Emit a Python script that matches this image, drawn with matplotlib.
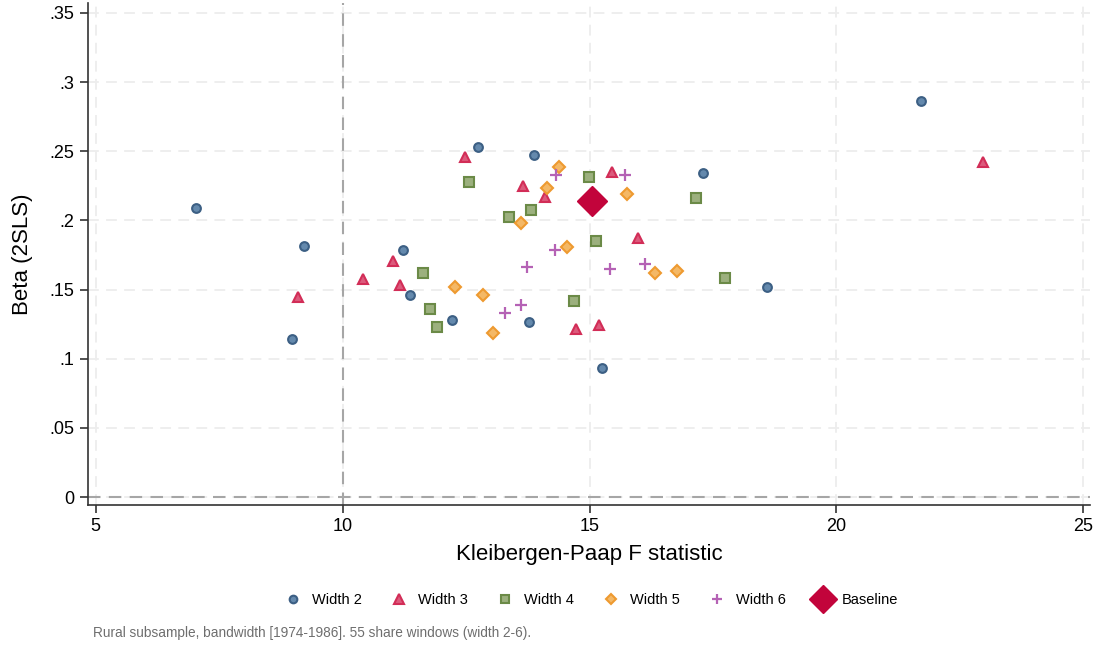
import matplotlib.pyplot as plt

plt.rcParams['font.family'] = ['Liberation Sans', 'DejaVu Sans']

# Kleibergen-Paap F and 2SLS beta per share window
w2_f = [7.03, 9.21, 8.97, 11.22, 11.37, 12.21, 12.75, 13.87, 13.78, 15.25, 17.29, 18.59, 21.72]
w2_b = [0.2093, 0.1812, 0.1140, 0.1788, 0.1461, 0.1281, 0.2529, 0.2472, 0.1265, 0.0931, 0.2342, 0.1517, 0.2860]

w3_f = [9.09, 10.41, 11.02, 11.17, 12.48, 13.66, 14.10, 14.73, 15.19, 15.46, 15.98, 22.97]
w3_b = [0.1450, 0.1580, 0.1705, 0.1532, 0.2456, 0.2247, 0.2173, 0.1216, 0.1247, 0.2348, 0.1873, 0.2420]

w4_f = [11.63, 11.77, 11.91, 12.56, 13.37, 13.82, 14.99, 15.13, 14.69, 17.16, 17.75]
w4_b = [0.1622, 0.1360, 0.1231, 0.2280, 0.2023, 0.2073, 0.2316, 0.1855, 0.1416, 0.2160, 0.1582]

w5_f = [12.27, 12.84, 13.05, 13.61, 14.14, 14.39, 14.55, 15.75, 16.32, 16.77]
w5_b = [0.1517, 0.1459, 0.1190, 0.1978, 0.2237, 0.2385, 0.1805, 0.2191, 0.1622, 0.1632]

w6_f = [14.33, 15.71, 14.29, 13.73, 15.42, 16.12, 13.61, 13.28]
w6_b = [0.2328, 0.2328, 0.1788, 0.1663, 0.1651, 0.1687, 0.1392, 0.1330]

base_f = [15.04]
base_b = [0.2143]

x_ticks = [5, 10, 15, 20, 25]
y_ticks = [0, 0.05, 0.1, 0.15, 0.2, 0.25, 0.3, 0.35]
y_labels = ['0', '.05', '.1', '.15', '.2', '.25', '.3', '.35']

fig = plt.figure(figsize=(10.98, 6.46), dpi=100)
ax = fig.add_axes([0.080, 0.218, 0.913, 0.777])

ax.set_xlim(4.84, 25.14)
ax.set_ylim(-0.0058, 0.357)
ax.set_xticks(x_ticks)
ax.set_yticks(y_ticks)
ax.set_yticklabels(y_labels)
ax.tick_params(labelsize=13, length=6, width=1.2, color='#333333')
ax.grid(True, color='#ededed', linestyle=(0, (6, 4)), linewidth=1.3)
ax.set_axisbelow(True)
for s in ['top', 'right']:
    ax.spines[s].set_visible(False)
for s in ['left', 'bottom']:
    ax.spines[s].set_color('#333333')
    ax.spines[s].set_linewidth(1.2)

ax.axvline(10, color='#a6a6a6', linestyle=(0, (6, 4)), linewidth=1.5, zorder=1)
ax.axhline(0, color='#a6a6a6', linestyle=(0, (6, 4)), linewidth=1.5, zorder=1)

ax.plot(w2_f, w2_b, 'o', ms=6.3, mfc='#6489ad', mec='#3c5f84', mew=1.5, label='Width 2', zorder=3)
ax.plot(w3_f, w3_b, '^', ms=7.5, mfc='#dc5a7c', mec='#d22d57', mew=1.5, label='Width 3', zorder=3)
ax.plot(w4_f, w4_b, 's', ms=6.5, mfc='#9cb07e', mec='#6b8a47', mew=1.5, label='Width 4', zorder=3)
ax.plot(w5_f, w5_b, 'D', ms=6.0, mfc='#f4b866', mec='#ee9a30', mew=1.5, label='Width 5', zorder=3)
ax.plot(w6_f, w6_b, '+', ms=8.5, mec='#b562b5', mew=1.6, label='Width 6', zorder=3)
ax.plot(base_f, base_b, 'D', ms=15, mfc='#c2043b', mec='#c2043b', label='Baseline', zorder=4)

ax.set_xlabel('Kleibergen-Paap F statistic', fontsize=16, labelpad=6)
ax.set_ylabel('Beta (2SLS)', fontsize=16, labelpad=12)

handles, labels = ax.get_legend_handles_labels()
leg = fig.legend(handles, labels, loc='center', bbox_to_anchor=(0.538, 0.071), ncol=6,
                 frameon=False, fontsize=10.5, handletextpad=0.6, columnspacing=1.85,
                 handlelength=1.4)
for h, size in zip(leg.legend_handles, [5.5, 7.0, 6.0, 5.5, 7.5, 14]):
    h.set_markersize(size)

fig.text(0.085, 0.020, 'Rural subsample, bandwidth [1974-1986]. 55 share windows (width 2-6).',
         fontsize=9.8, color='#6e6e6e', va='center')

fig.savefig('out.png', dpi=100)
